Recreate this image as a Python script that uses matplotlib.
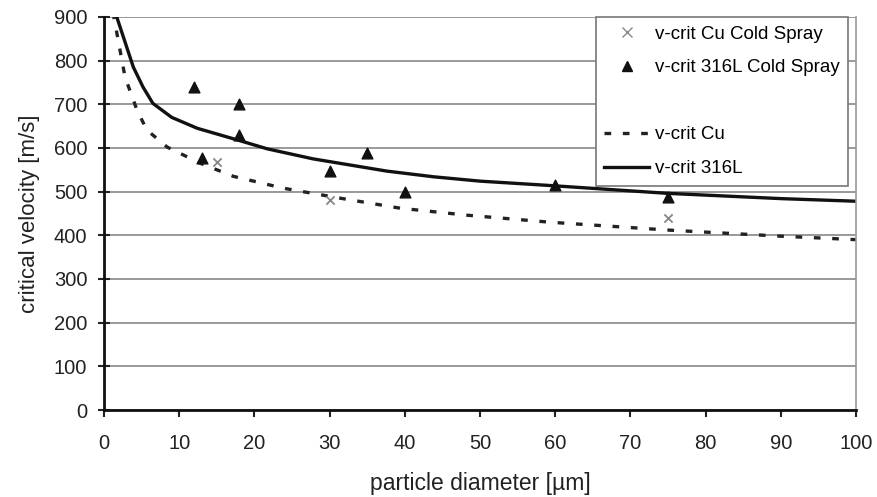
import matplotlib
matplotlib.use("Agg")
import matplotlib.pyplot as plt
from matplotlib.lines import Line2D

plt.rcParams['font.family'] = ['Liberation Sans', 'DejaVu Sans']

# model curves
d_316 = [1.5, 3.9, 5.2, 6.5, 9, 12.4, 17.8, 21.7, 27.8, 37.6, 43.8, 50, 59.3, 75, 90, 100]
v_316 = [910, 785, 739, 702, 670, 645, 618, 598, 575, 547, 534, 524, 514, 496, 484, 478]

d_cu = [1.2, 2.8, 4.4, 5.7, 8.4, 12.8, 17.2, 23.8, 31.4, 39.4, 48.3, 59.3, 75, 90, 100]
v_cu = [910, 762, 686, 641, 602, 565, 535, 508, 485, 462, 446, 430, 412, 398, 390]

# measured points
d_316_cs = [12, 18, 18, 13, 30, 35, 40, 60, 75]
v_316_cs = [740, 700, 630, 578, 547, 588, 498, 515, 488]
d_cu_cs = [15, 30, 75]
v_cu_cs = [568, 480, 440]

dots = (0, (2, 3.5))

fig = plt.figure(figsize=(8.77, 4.97), dpi=100)
ax = fig.add_axes([0.1186, 0.175, 0.8574, 0.791])

ax.plot(d_cu, v_cu, color='#222222', lw=2.4, linestyle=dots, dash_capstyle='butt')
ax.plot(d_316, v_316, color='#111111', lw=2.4)
ax.scatter(d_316_cs, v_316_cs, marker='^', s=60, color='#111111', zorder=3)
ax.scatter(d_cu_cs, v_cu_cs, marker='x', s=35, color='#888888', lw=1.3, zorder=3)

ax.set_xlim(0, 100)
ax.set_ylim(0, 900)
ax.set_xticks(range(0, 101, 10))
ax.set_yticks(range(0, 901, 100))
ax.yaxis.grid(True, color='#888888', lw=1.2)
ax.set_axisbelow(True)
ax.tick_params(direction='out', length=5, width=1.5, labelsize=14.5, colors='#222222', pad=12)
ax.tick_params(axis='y', direction='inout', length=8, pad=8)
for s in ['left', 'bottom']:
    ax.spines[s].set_linewidth(2)
    ax.spines[s].set_color('#111111')
ax.spines['top'].set_visible(False)
ax.spines['right'].set_color('#999999')
ax.spines['right'].set_linewidth(1.2)

ax.set_xlabel('particle diameter [µm]', fontsize=16.5, color='#222222', labelpad=14)
ax.set_ylabel('critical velocity [m/s]', fontsize=16, color='#222222', labelpad=10)

handles = [
    Line2D([], [], marker='x', color='#888888', ls='none', markersize=7),
    Line2D([], [], marker='^', color='#111111', ls='none', markersize=7),
    Line2D([], [], ls='none'),
    Line2D([], [], color='#222222', lw=2.4, linestyle=dots),
    Line2D([], [], color='#111111', lw=2.4),
]
labels = ['v-crit Cu Cold Spray', 'v-crit 316L Cold Spray', '', 'v-crit Cu', 'v-crit 316L']
leg = fig.legend(handles, labels, loc='upper right', bbox_to_anchor=(848 / 877, 480 / 497),
                 fontsize=13.5, fancybox=False, framealpha=1, edgecolor='#777777',
                 handlelength=2.4, handletextpad=0.3, labelspacing=0.88, borderpad=0.45,
                 borderaxespad=0)
leg.get_frame().set_linewidth(1.2)

fig.savefig('out.png', dpi=100)
